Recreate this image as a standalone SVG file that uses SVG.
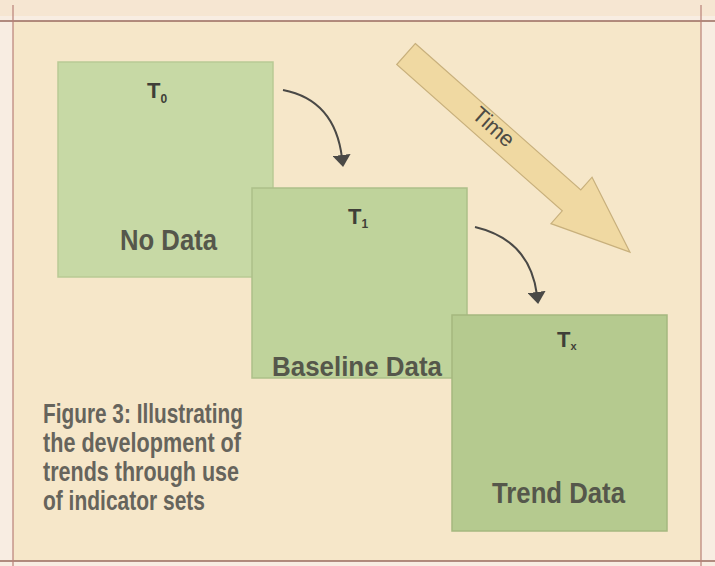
<svg xmlns="http://www.w3.org/2000/svg" width="715" height="566" viewBox="0 0 715 566">
<style>
.lbl{font-family:"Liberation Sans Narrow","Liberation Sans",Arial,sans-serif;font-weight:bold;fill:#55574b}
.t{font-family:"Liberation Sans Narrow","Liberation Sans",Arial,sans-serif;font-weight:bold;fill:#3f3f38}
.cap{font-family:"Liberation Sans Narrow","Liberation Sans",Arial,sans-serif;font-weight:bold;fill:#66645c;font-size:27px}
.box{stroke-width:1.5}
.conn{fill:none;stroke:#4a4946;stroke-width:2}
</style>
<defs>
<marker id="ah" viewBox="0 0 12 18" refX="3" refY="9" markerWidth="12" markerHeight="18" orient="auto" markerUnits="userSpaceOnUse">
<path d="M0,0 L12,9 L0,18 Z" fill="#4a4946"/>
</marker>
</defs>
<rect x="0" y="0" width="715" height="566" fill="#f8ede2"/>
<rect x="0" y="0" width="715" height="16" fill="#f6e6d2"/>
<rect x="13" y="21" width="688" height="540" fill="#f6e7c9"/>
<line x1="0" y1="21" x2="715" y2="21" stroke="#9a6a5e" stroke-width="1.5"/>
<line x1="0" y1="561" x2="715" y2="561" stroke="#9a6a5e" stroke-width="1.5"/>
<line x1="13" y1="5" x2="13" y2="566" stroke="#b98078" stroke-width="1.2"/>
<line x1="701" y1="5" x2="701" y2="566" stroke="#b98078" stroke-width="1.2"/>

<g id="time">
<g transform="translate(406,54) rotate(41.5)">
<path d="M0,-14 L221,-14 L221,-31 L299,0 L221,31 L221,14 L0,14 Z" fill="#f0d9a2" stroke="#c8b07c" stroke-width="1.2"/>
<text x="114" y="4" text-anchor="middle" font-family="Liberation Sans, Arial, sans-serif" font-size="22" fill="#4d4b44">Time</text>
</g>
</g>

<g id="n0">
<rect class="box" x="58" y="62" width="215" height="215" fill="#c7d9a5" stroke="#b9ca95"/>
<text class="t" x="147" y="98" font-size="22">T<tspan font-size="12" dy="5">0</tspan></text>
<text class="lbl" x="120" y="250" font-size="30" textLength="97" lengthAdjust="spacingAndGlyphs">No Data</text>
</g>
<g id="n1">
<rect class="box" x="252" y="188" width="215" height="190" fill="#bfd39b" stroke="#adc089"/>
<text class="t" x="348" y="224" font-size="22">T<tspan font-size="12" dy="4">1</tspan></text>
<text class="lbl" x="272" y="376" font-size="28" textLength="170" lengthAdjust="spacingAndGlyphs">Baseline Data</text>
</g>
<g id="n2">
<rect class="box" x="452" y="315" width="215" height="216" fill="#b5ca8f" stroke="#a5b87f"/>
<text class="t" x="557" y="347" font-size="22">T<tspan font-size="11" dy="3">x</tspan></text>
<text class="lbl" x="492" y="503" font-size="29" textLength="133" lengthAdjust="spacingAndGlyphs">Trend Data</text>
</g>

<g id="connectors">
<path class="conn" d="M283,90 Q335,100 342,158" marker-end="url(#ah)"/>
<path class="conn" d="M475,227 Q530,240 537,295" marker-end="url(#ah)"/>
</g>

<g id="caption">
<text class="cap" x="43" y="423" textLength="200" lengthAdjust="spacingAndGlyphs">Figure 3: Illustrating</text>
<text class="cap" x="43" y="452" textLength="198" lengthAdjust="spacingAndGlyphs">the development of</text>
<text class="cap" x="43" y="481" textLength="196" lengthAdjust="spacingAndGlyphs">trends through use</text>
<text class="cap" x="43" y="510" textLength="162" lengthAdjust="spacingAndGlyphs">of indicator sets</text>
</g>
</svg>
